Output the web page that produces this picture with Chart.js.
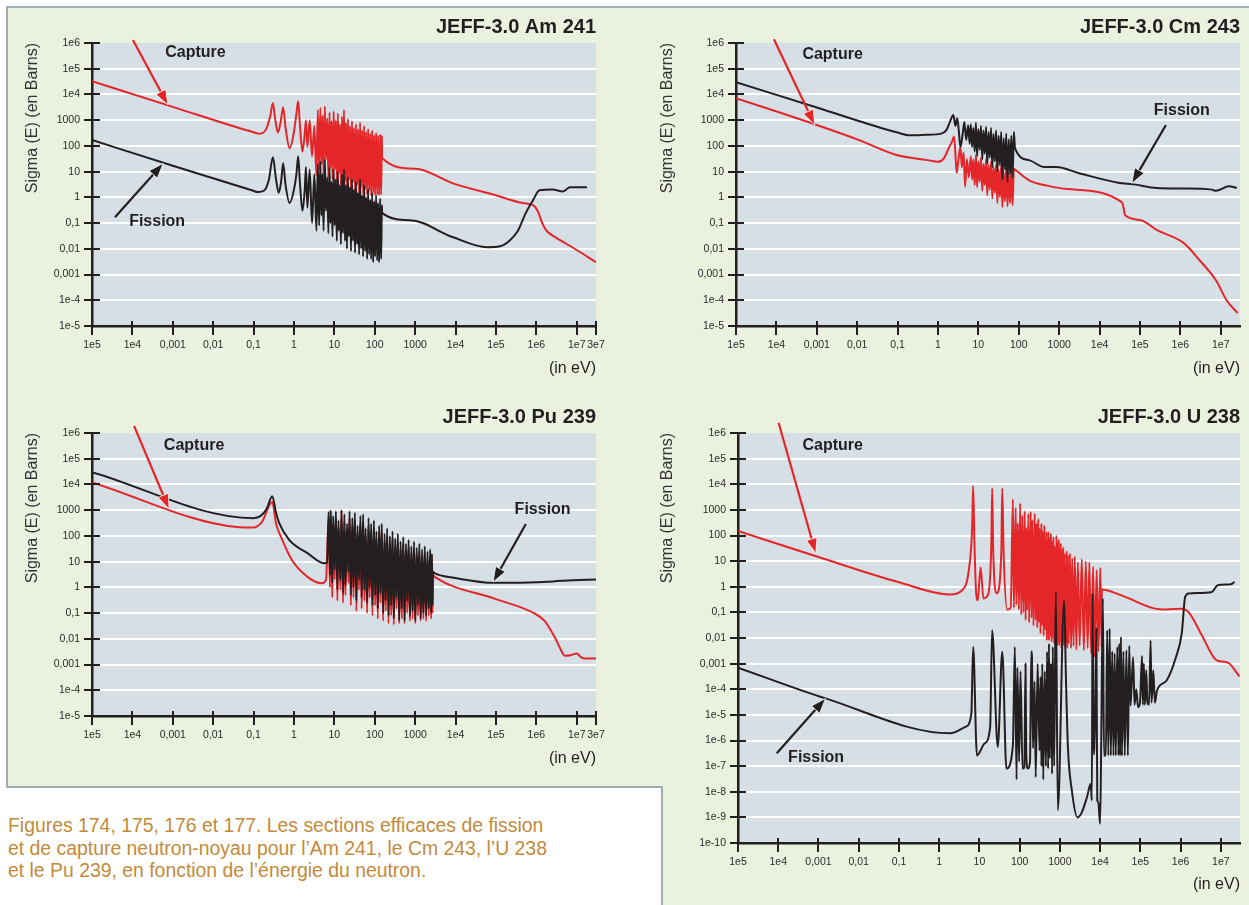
<!DOCTYPE html>
<html><head><meta charset="utf-8">
<script src="https://cdn.jsdelivr.net/npm/chart.js@4.4.1/dist/chart.umd.min.js"></script>
<style>
html,body{margin:0;padding:0;background:#fff;}
body{width:1249px;height:905px;overflow:hidden;position:relative;font-family:"Liberation Sans",Arial,sans-serif;}
#bg{position:absolute;left:6px;top:6px;width:1243px;height:899px;box-sizing:border-box;background:#eaf2df;border-top:2px solid #a2acb4;border-left:2px solid #a2acb4;}
#cap{position:absolute;left:6px;top:786px;width:657px;height:119px;box-sizing:border-box;background:#fff;border-top:2px solid #a2acb4;border-right:2px solid #a2acb4;}
#capText{position:absolute;left:8px;top:814px;font-size:19.4px;line-height:22.5px;color:#c28a3a;white-space:nowrap;}
canvas{position:absolute;}
</style></head>
<body>
<div id="bg"></div>
<div id="cap"></div>
<div id="capText">Figures 174, 175, 176 et 177. Les sections efficaces de fission<br>et de capture neutron-noyau pour l’Am 241, le Cm 243, l’U 238<br>et le Pu 239, en fonction de l’énergie du neutron.</div>
<canvas id="cAm" width="640" height="390" style="left:0;top:0;width:640px;height:390px"></canvas>
<canvas id="cCm" width="605" height="390" style="left:644px;top:0;width:605px;height:390px"></canvas>
<canvas id="cPu" width="640" height="390" style="left:0;top:390px;width:640px;height:390px"></canvas>
<canvas id="cU" width="603" height="515" style="left:646px;top:390px;width:603px;height:515px"></canvas>
<script>
// ---------- axis ticks ----------
const xTickValues = [1e-5,1e-4,1e-3,1e-2,1e-1,1,10,100,1000,1e4,1e5,1e6,1e7,3e7];
const xTickLabels = ['1e5','1e4','0,001','0,01','0,1','1','10','100','1000','1e4','1e5','1e6','1e7','3e7'];
const xTickValuesShort = [1e-5,1e-4,1e-3,1e-2,1e-1,1,10,100,1000,1e4,1e5,1e6,1e7];
const yTickValues = [1e6,1e5,1e4,1000,100,10,1,0.1,0.01,0.001,1e-4,1e-5];
const yTickLabels = ['1e6','1e5','1e4','1000','100','10','1','0,1','0,01','0,001','1e-4','1e-5'];
const yTickValuesU = [1e6,1e5,1e4,1000,100,10,1,0.1,0.01,0.001,1e-4,1e-5,1e-6,1e-7,1e-8,1e-9,1e-10];
const yTickLabelsU = ['1e6','1e5','1e4','1000','100','10','1','0,1','0,01','0,001','1e-4','1e-5','1e-6','1e-7','1e-8','1e-9','1e-10'];

// ---------- Am 241 ----------
const amCapLow = [[1e-5,3.3e4],[1e-3,3.3e3],[0.1,340],[0.14,300],[0.2,420],[0.26,1500],[0.3,4700],[0.34,1200],[0.4,330],[0.47,900],[0.54,3200],[0.62,500],[0.78,80],[1.0,350],[1.15,1800],[1.27,5500],[1.4,700],[1.62,60],[1.85,300],[1.98,1000],[2.15,90],[2.45,1000],[2.8,40],[3.2,600],[3.6,7]];
const amFisLow = [[1e-5,170],[1e-3,17],[0.09,1.9],[0.13,1.6],[0.18,1.8],[0.24,5],[0.3,36],[0.36,5],[0.42,1.5],[0.48,4],[0.54,21],[0.62,3],[0.78,0.6],[1.0,2],[1.15,8],[1.27,40],[1.4,4],[1.62,0.3],[1.85,2],[1.98,15],[2.15,0.4],[2.45,12],[2.8,0.1],[3.2,8],[3.6,0.05]];
const amResE = [3.9,4.2,4.5,4.8,5.1,5.4,5.8,6.2,6.7,7.1,7.6,8.0,8.5,9.0,9.6,10.2,10.9,11.5,12.2,12.9,13.7,14.5,15.4,16.3,17.3,18.3,19.4,20.5,21.7,23,24.4,25.8,27.3,29,30.7,32.5,34.4,36.5,38.6,40.9,43.3,45.9,48.6,51.5,54.5,57.7,61.1,64.7,68.5,72.6,76.9,81.4,86.2,91.3,96.7,102,108,115,121,128,136,144];
const amCapRes = [2500,12,3000,20,1500,8,3500,30,1200,6,2000,15,900,5,2200,12,1000,4,1800,9,700,3,1400,6,2500,4,800,2.5,1100,5,600,2,900,4,500,1.8,700,3,450,1.5,800,2.5,400,1.4,600,2,350,1.3,450,1.8,300,1.2,400,1.5,260,1.2,320,1.3,250,1.2,280,1.3];
const amFisRes = [20,0.08,25,0.2,8,0.05,30,0.3,6,0.04,15,0.1,4,0.03,12,0.08,5,0.02,10,0.05,3,0.015,8,0.04,12,0.02,3,0.01,6,0.03,2.5,0.008,5,0.02,2,0.007,4,0.015,1.5,0.006,5,0.01,1.2,0.005,3,0.008,1,0.004,2,0.006,0.8,0.004,1.5,0.003,0.7,0.005,1.2,0.0035,0.6,0.003,0.9,0.004];
const amCapHigh = [[150,250],[152,34],[1000,13],[8.7e3,3.5],[1e5,1.2],[4.7e5,0.6],[8.3e5,0.5],[1.1e6,0.28],[1.4e6,0.1],[1.8e6,0.05],[2.2e6,0.038],[3.2e6,0.026],[1e7,0.009],[3e7,0.003]];
const amFisHigh = [[150,0.5],[152,0.25],[740,0.13],[8.7e3,0.028],[6e4,0.0115],[1.26e5,0.0125],[2.2e5,0.021],[3.5e5,0.05],[5.5e5,0.25],[8.3e5,0.78],[1.2e6,1.9],[2.5e6,2.0],[4.6e6,1.7],[6.8e6,2.5],[1.8e7,2.5]];

// ---------- Cm 243 ----------
const cmCapLow = [[1e-5,7.2e3],[1e-3,650],[0.01,180],[0.095,44],[0.55,28],[1.0,24],[1.4,33],[1.9,90],[2.2,140],[2.5,230],[2.7,50],[2.9,9],[3.2,28],[3.6,90],[3.9,15],[4.3,55],[4.7,2.6],[5.2,30],[5.8,6]];
const cmFisLow = [[1e-5,3e4],[1e-3,3.1e3],[0.1,330],[0.2,260],[0.5,270],[1.2,300],[1.6,400],[2.0,900],[2.4,1600],[2.7,600],[3.0,1200],[3.3,350],[3.6,90],[4.1,300],[4.5,850],[5.0,170],[5.6,630],[6.1,120]];
const cmResE = [6.5,7,7.5,8.1,8.7,9.3,10,10.8,11.6,12.5,13.4,14.4,15.5,16.6,17.9,19.2,20.6,22.2,23.8,25.6,27.5,29.6,31.8,34.2,36.7,39.5,42.4,45.6,49,52.7,56.6,60.9,65.4,70.3,75.6,81];
const cmFisRes = [700,90,500,60,800,40,450,70,600,30,400,50,550,20,350,35,500,15,300,25,400,10,250,18,350,5,200,12,300,4,180,8,250,6,350,80];
const cmCapRes = [40,5,30,3,45,2.5,25,4,35,1.8,20,3,30,1.2,18,2,25,0.9,15,1.5,20,0.6,12,1,18,0.42,10,0.7,15,0.45,9,0.6,12,0.5,13,12];
const cmFisHigh = [[180,28],[430,15],[850,15],[3.1e3,8.7],[2.9e4,3.7],[7e4,3.2],[2.6e5,2.3],[1.2e6,2.2],[6e6,2.0],[7.6e6,1.8],[1.6e7,2.7],[2.5e7,2.3]];
const cmCapHigh = [[180,4.6],[540,2.8],[1.6e3,2.1],[3.6e4,0.64],[3.9e4,0.42],[4.3e4,0.2],[1.05e5,0.13],[2.6e5,0.054],[1.2e6,0.017],[3e6,0.0036],[7.6e6,6e-4],[1.4e7,1e-4],[2.6e7,3.2e-5]];

// ---------- Pu 239 ----------
const puFisLow = [[1e-5,3e4],[0.098,490],[0.15,600],[0.21,1100],[0.29,3500],[0.36,800],[0.43,320],[0.76,70],[2.2,21],[5.5,8.7],[6.6,9]];
const puCapLow = [[1e-5,1.2e4],[0.039,220],[0.098,210],[0.16,340],[0.29,2100],[0.36,300],[0.48,90],[0.89,11.5],[2.2,2.5],[4.9,1.45],[6.2,1.9]];
const puResE = [7.2,7.8,8.1,8.9,9.3,10.2,10.9,11.9,12.6,14.1,15,16.4,17.7,18.8,20.6,22.3,23.8,25.6,27.9,29.8,32.2,35.1,37.5,40.7,44.2,47.4,51.5,55.3,59.5,64.6,70.2,74.8,81.5,87.6,95.3,102,110,119,128,138,149,161,175,187,203,219,237,254,276,296,321,345,374,402,436,469,508,547,592,637,690,743,805,866,938,1008,1092,1178,1271,1368,1482,1598,1731,1868,2022,2177,2354,2490,2600,2700];
const puFisRes = [850,3,1000,1.5,600,5,900,0.8,400,2,1000,0.6,700,1.2,300,4,900,0.5,500,1,800,0.3,250,2,600,0.4,700,0.8,200,0.25,500,1,300,0.2,400,0.5,150,0.15,250,0.6,300,0.1,120,0.3,200,0.08,100,0.2,150,0.06,80,0.4,120,0.05,60,0.15,90,0.05,50,0.3,70,0.07,40,0.12,60,0.05,35,0.2,50,0.06,30,0.1,40,0.08,25,0.15,30,0.1,20,0.2];
const puCapRes = [400,1,900,0.4,300,2,500,0.3,200,0.8,1000,0.25,350,0.5,150,1.5,500,0.2,250,0.4,400,0.12,120,0.8,300,0.15,350,0.3,100,0.1,250,0.4,150,0.08,200,0.2,80,0.06,120,0.25,150,0.05,60,0.12,100,0.04,50,0.08,80,0.035,40,0.15,60,0.04,30,0.06,45,0.04,25,0.1,35,0.05,20,0.06,30,0.04,18,0.08,25,0.05,15,0.06,20,0.05,12,0.08,15,0.06,15,0.1];
const puFisHigh = [[2750,4],[3.1e3,3.5],[1e4,2.3],[9e4,1.5],[2.8e5,1.5],[2.6e6,1.7],[8e6,1.9],[3e7,2.0]];
const puCapHigh = [[2750,3],[3.1e3,2.5],[1e5,0.35],[8.7e5,0.1],[1.6e6,0.05],[2.9e6,0.011],[4.1e6,0.0036],[5.1e6,0.0022],[7e6,0.0023],[1e7,0.0027],[1.3e7,0.0019],[1.6e7,0.0017],[3e7,0.0017]];

// ---------- U 238 ----------
const uCapLow = [[1e-5,150],[1e-3,14.5],[0.1,1.5],[1.9,0.5],[3.6,0.7],[5.6,6],[6.6,200],[7.0,8500],[7.5,60],[8.3,0.56],[9.1,0.3],[10.7,5.6],[12.6,0.35],[16.5,0.5],[19.8,50],[20.8,7000],[22,30],[27,0.56],[35,20],[37,7000],[40,20],[49,0.13],[60,0.15]];
const uResE = [68,72,80,83,90,96,103,110,117,125,134,141,146,153,165,172,189,197,208,221,237,248,263,274,291,304,312,330,348,360,376,395,411,436,463,476,489,505,518,535,560,581,600,619,640,661,693,721,750,783,821,851,880,906,937,958,991,1023,1054,1098,1140,1167,1210,1275,1312,1393,1473,1522,1597,1662,1783,1906,2023,2185,2353,2571,2800,3100,3500,3950,4400,4900,5400,6000,6700,7400,8200,9100,10100,10900];
const uCapRes = [2600,0.15,1200,0.2,300,0.13,1800,0.08,600,0.1,900,0.05,200,0.12,700,0.04,850,0.06,400,0.03,730,0.05,300,0.025,450,0.04,190,0.015,300,0.03,150,0.012,250,0.02,140,0.008,60,0.015,140,0.008,80,0.012,120,0.007,60,0.01,90,0.006,40,0.009,100,0.005,50,0.008,70,0.005,30,0.007,50,0.004,27,0.006,35,0.005,20,0.006,25,0.004,17,0.006,20,0.004,13,0.005,15,0.0035,9,0.005,12,0.0033,10,0.004,9,0.0025,6,0.0018,4.5,0.003,5.5,0.0045];
const uCapHigh = [[1.1e4,0.78],[3.4e4,0.46],[2.3e5,0.14],[4.4e5,0.13],[1.07e6,0.14],[1.6e6,0.1],[3.2e6,0.015],[6.6e6,0.0018],[8.3e6,0.0013],[1.5e7,0.0011],[2.9e7,3.2e-4]];
const uFisLow = [[1e-5,7e-4],[1.5e-3,4.4e-5],[1.9,1.9e-6],[4.5,3.4e-6],[6.3,1.1e-5],[7.0,4.5e-3],[8.7,2.6e-7],[13.4,7.6e-7],[18.5,3.4e-6],[20.7,0.02],[28.6,5.6e-7],[37,2.9e-3],[47,8e-8],[68,6.5e-7]];
const uFisMid = [[76,4.5e-3],[84,3e-8],[88,7e-4],[97,1.5e-7],[105,5e-4],[118,8e-8],[131,9e-8],[140,1e-3],[146,3e-7],[160,8e-8],[181,1.5e-7],[195,3e-3],[202,2e-3],[215,5e-7],[235,2e-4],[251,3.7e-8],[280,1e-3],[312,4e-7],[330,3e-4],[347,1e-7],[365,1e-3],[387,3e-8],[420,5e-4],[450,1e-7],[481,2.9e-3],[510,8e-8],[536,6e-3],[560,2e-7],[600,1e-3],[640,5e-8],[667,4.5e-3],[720,1e-7],[794,0.63],[890,1.9e-9],[1276,0.3],[1420,2.2e-4],[1585,5.6e-7],[1972,1.2e-8],[2730,1e-9],[3390,1.4e-9],[4700,6e-9],[5840,2e-8],[6230,4.6e-9],[6500,0.55],[6900,3e-7],[7250,3e-7],[8070,0.023],[8500,4.6e-9],[9000,4e-9],[1.0e4,5.6e-10],[1.07e4,1.3e-6],[1.17e4,0.35]];
const uFisHigh = [[1.25e4,2.6e-7],[1.39e4,2.6e-7],[1.5e4,0.02],[1.6e4,2.6e-7],[1.73e4,0.023],[1.85e4,2.6e-7],[2.0e4,3e-3],[2.15e4,2.6e-7],[2.3e4,2.5e-3],[2.45e4,2.6e-7],[2.67e4,4.5e-3],[2.85e4,2.6e-7],[3.0e4,6e-3],[3.15e4,2.6e-7],[3.3e4,0.011],[3.5e4,2.6e-7],[3.8e4,3e-3],[4.1e4,2.6e-7],[4.5e4,3.3e-3],[4.9e4,2.6e-7],[5.3e4,5e-3],[5.7e4,2.3e-5],[6.6e4,1.8e-3],[7.2e4,2.5e-5],[7.9e4,1e-4],[8.8e4,2e-5],[9.8e4,3e-5],[1.1e5,2e-3],[1.16e5,2.5e-5],[1.22e5,1e-3],[1.3e5,2.5e-5],[1.4e5,5.5e-4],[1.5e5,3e-5],[1.65e5,2.5e-5],[1.8e5,8e-3],[1.9e5,3e-5],[2.1e5,5.5e-4],[2.3e5,3e-5],[2.6e5,9e-5],[4.5e5,2.2e-4],[7.7e5,1.8e-3],[1.07e6,0.015],[1.3e6,0.4],[1.6e6,0.55],[6e6,0.63],[8.4e6,1.15],[1.8e7,1.26],[2.2e7,1.55]];

// ---------- annotations (data coordinates) ----------
const amNotes = {labels:[['Capture',6.5e-4,4.1e5],['Fission',8.3e-5,0.117]], arrows:[['red',1.03e-4,1.3e6,7.6e-4,3.9e3],['black',3.7e-5,0.17,5.8e-4,21]]};
const cmNotes = {labels:[['Capture',4.4e-4,3.4e5],['Fission',2.2e5,2.4e3]], arrows:[['red',8.7e-5,1.4e6,8.9e-4,650],['black',4.4e5,650,6.3e4,3.5]]};
const puNotes = {labels:[['Capture',6e-4,3.1e5],['Fission',2.9e5,1.1e3]], arrows:[['red',1.1e-4,1.9e6,8.1e-4,1.1e3],['black',5.5e5,290,8.5e4,1.6]]};
const uNotes  = {labels:[['Capture',4e-4,3.2e5],['Fission',1.76e-4,2.1e-7]], arrows:[['red',1.02e-4,2.5e6,8.6e-4,20],['black',9.2e-5,3.2e-7,1.5e-3,4.4e-5]]};

// ---------- styles ----------
const RED = '#e42628', BLACK = '#231f20', AXIS = '#231f20', TEXT = '#231f20', TICK = '#2a2a2a';
const PLOT_BG = '#d6dee6', GRID = '#ffffff';
const FONT = '"Liberation Sans", Arial, sans-serif';
Chart.defaults.font.family = FONT;

function zip(es, vs){ return es.map((e,i)=>[e, vs[i]]); }
function pts(){ const out=[]; for (const part of arguments) for (const p of part) out.push({x:p[0], y:p[1]}); return out; }

function makeDeco(notes){
  return {
    id:'deco',
    beforeDraw(chart){
      const {ctx, chartArea:a} = chart;
      ctx.save(); ctx.fillStyle = PLOT_BG; ctx.fillRect(a.left, a.top, a.right-a.left, a.bottom-a.top); ctx.restore();
    },
    afterDraw(chart){
      const {ctx} = chart; const xs = chart.scales.x, ys = chart.scales.y;
      ctx.save();
      ctx.strokeStyle = AXIS; ctx.lineWidth = 2;
      ys.ticks.forEach(t=>{ const py = Math.round(ys.getPixelForValue(t.value)); ctx.beginPath(); ctx.moveTo(xs.left-8, py); ctx.lineTo(xs.left+8, py); ctx.stroke(); });
      xs.ticks.forEach(t=>{ const px = Math.round(xs.getPixelForValue(t.value)); ctx.beginPath(); ctx.moveTo(px, ys.bottom-5); ctx.lineTo(px, ys.bottom+9); ctx.stroke(); });
      notes.arrows.forEach(([c,x0,y0,x1,y1])=>{
        const col = c==='red'?RED:BLACK;
        const X0=xs.getPixelForValue(x0), Y0=ys.getPixelForValue(y0), X1=xs.getPixelForValue(x1), Y1=ys.getPixelForValue(y1);
        const ang=Math.atan2(Y1-Y0,X1-X0), L=15, W=5.5;
        const bx=X1-L*Math.cos(ang), by=Y1-L*Math.sin(ang);
        ctx.strokeStyle=col; ctx.lineWidth=2.2; ctx.beginPath(); ctx.moveTo(X0,Y0); ctx.lineTo(bx,by); ctx.stroke();
        ctx.beginPath(); ctx.moveTo(X1,Y1); ctx.lineTo(bx+W*Math.sin(ang), by-W*Math.cos(ang)); ctx.lineTo(bx-W*Math.sin(ang), by+W*Math.cos(ang)); ctx.closePath();
        ctx.fillStyle=col; ctx.fill(); ctx.strokeStyle='#ffffff'; ctx.lineWidth=0.8; ctx.stroke();
      });
      ctx.fillStyle=TEXT; ctx.font='bold 16px '+FONT; ctx.textBaseline='middle'; ctx.textAlign='left';
      notes.labels.forEach(([s,x,y])=>ctx.fillText(s, xs.getPixelForValue(x), ys.getPixelForValue(y)));
      ctx.restore();
    }
  };
}

function makeChart(id, c){
  const lineDs = (data, color) => ({data, borderColor:color, borderWidth:2, pointRadius:0, fill:false, tension:0.3, cubicInterpolationMode:'monotone', borderJoinStyle:'round'});
  return new Chart(document.getElementById(id), {
    type:'line',
    data:{datasets:[lineDs(c.fission, BLACK), lineDs(c.capture, RED)]},
    options:{
      responsive:false, animation:false, events:[],
      layout:{padding:{left:0, top:0, right:c.padRight, bottom:0}},
      plugins:{
        legend:{display:false}, tooltip:{enabled:false},
        title:{display:true, text:c.title, align:'end', color:TEXT, font:{size:20, weight:'bold'}, padding:{top:15, bottom:4}}
      },
      scales:{
        x:{type:'logarithmic', min:1e-5, max:3e7, position:'bottom',
          afterBuildTicks:s=>{ s.ticks = c.xTicks.map(v=>({value:v})); },
          afterFit:s=>{ s.height = c.xAxisH; },
          grid:{display:false, drawTicks:false},
          border:{display:true, color:AXIS, width:2.5},
          ticks:{autoSkip:false, maxRotation:0, minRotation:0, padding:12.5, color:TICK, font:{size:10.5}, callback:(v,i)=>xTickLabels[i]},
          title:{display:true, text:'(in eV)', align:'end', color:TEXT, font:{size:16}, padding:{top:0, bottom:c.xTitlePad}}
        },
        y:{type:'logarithmic', min:c.yMin, max:1e6, position:'left',
          afterBuildTicks:s=>{ s.ticks = c.yTicks.map(v=>({value:v})); },
          afterFit:s=>{ s.width = 92; },
          grid:{drawTicks:false, lineWidth:2, color:ctx=> (ctx.tick && ctx.tick.value===1e6) ? 'rgba(0,0,0,0)' : GRID},
          border:{display:true, color:AXIS, width:2.5},
          ticks:{autoSkip:false, padding:12, color:TICK, font:{size:10.5}, callback:(v,i)=>c.yLabels[i]},
          title:{display:true, text:'Sigma (E) (en Barns)', align:'end', color:'#333', font:{size:16}, padding:{top:c.yTitlePad, bottom:0}}
        }
      }
    },
    plugins:[makeDeco(c.notes)]
  });
}

makeChart('cAm', {title:'JEFF-3.0 Am 241', padRight:44, xAxisH:64, xTitlePad:11.4, yTitlePad:23.4, yMin:1e-5,
  xTicks:xTickValues, yTicks:yTickValues, yLabels:yTickLabels, notes:amNotes,
  capture:pts(amCapLow, zip(amResE, amCapRes), amCapHigh), fission:pts(amFisLow, zip(amResE, amFisRes), amFisHigh)});
makeChart('cCm', {title:'JEFF-3.0 Cm 243', padRight:9, xAxisH:64, xTitlePad:11.4, yTitlePad:14.4, yMin:1e-5,
  xTicks:xTickValuesShort, yTicks:yTickValues, yLabels:yTickLabels, notes:cmNotes,
  capture:pts(cmCapLow, zip(cmResE, cmCapRes), cmCapHigh), fission:pts(cmFisLow, zip(cmResE, cmFisRes), cmFisHigh)});
makeChart('cPu', {title:'JEFF-3.0 Pu 239', padRight:44, xAxisH:64, xTitlePad:11.4, yTitlePad:23.4, yMin:1e-5,
  xTicks:xTickValues, yTicks:yTickValues, yLabels:yTickLabels, notes:puNotes,
  capture:pts(puCapLow, zip(puResE, puCapRes), puCapHigh), fission:pts(puFisLow, zip(puResE, puFisRes), puFisHigh)});
makeChart('cU', {title:'JEFF-3.0 U 238', padRight:9, xAxisH:62, xTitlePad:10.4, yTitlePad:12.4, yMin:1e-10,
  xTicks:xTickValuesShort, yTicks:yTickValuesU, yLabels:yTickLabelsU, notes:uNotes,
  capture:pts(uCapLow, zip(uResE, uCapRes), uCapHigh), fission:pts(uFisLow, uFisMid, uFisHigh)});
</script>
</body></html>
